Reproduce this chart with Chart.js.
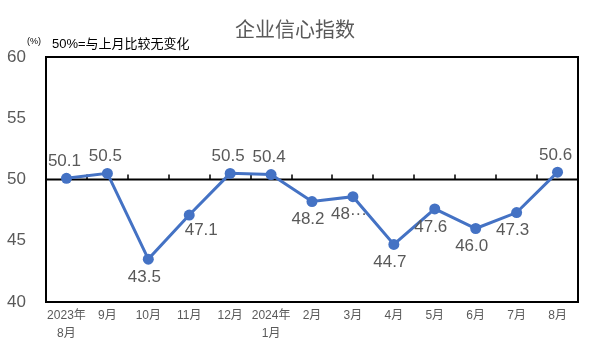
<!DOCTYPE html>
<html>
<head>
<meta charset="utf-8">
<script src="https://cdn.jsdelivr.net/npm/chart.js@4/dist/chart.umd.min.js"></script>
<style>
  html, body { margin: 0; padding: 0; background: #fff; }
  #wrap { width: 591px; height: 354px; }
</style>
</head>
<body>
<div id="wrap"><canvas id="chart" width="591" height="354"></canvas></div>
<script>
// data
const months = [["2023年", "8月"], "9月", "10月", "11月", "12月", ["2024年", "1月"], "2月", "3月", "4月", "5月", "6月", "7月", "8月"];
const confidence = [50.1, 50.5, 43.5, 47.1, 50.5, 50.4, 48.2, 48.6, 44.7, 47.6, 46.0, 47.3, 50.6];
const yTicks = [40, 45, 50, 55, 60];
// where each value label sits relative to its point
const labelSide = ["top", "top", "bottom", "right", "top", "top", "bottom", "bottom", "bottom", "bottom", "bottom", "bottom", "top"];
const cutLabels = [7]; // shown clipped as "48···" in the original

const FONT = "'Liberation Sans', 'Noto Sans CJK SC', sans-serif";
const GREY = "#595959";
const BLUE = "#4472C4";

const decor = {
  id: "decor",
  beforeDatasetsDraw(chart) {
    const { ctx, chartArea: a, scales: { x, y } } = chart;
    const y50 = y.getPixelForValue(50);
    ctx.save();
    ctx.strokeStyle = "#000";
    ctx.lineWidth = 2;
    ctx.beginPath();
    ctx.moveTo(a.left, y50);
    ctx.lineTo(a.right, y50);
    ctx.stroke();
    // small tick marks between the months, on the 50 line
    ctx.lineWidth = 1.5;
    ctx.beginPath();
    for (let i = 1; i < months.length; i++) {
      const px = Math.round((x.getPixelForValue(i - 1) + x.getPixelForValue(i)) / 2);
      ctx.moveTo(px, y50);
      ctx.lineTo(px, y50 - 5);
    }
    ctx.stroke();
    ctx.lineWidth = 2;
    ctx.strokeRect(a.left, a.top, a.width, a.height);
    ctx.restore();
  },
  afterDatasetsDraw(chart) {
    const { ctx } = chart;
    const pts = chart.getDatasetMeta(0).data;
    ctx.save();
    ctx.font = "17px " + FONT;
    ctx.fillStyle = GREY;
    ctx.textAlign = "center";
    ctx.textBaseline = "middle";
    pts.forEach((p, i) => {
      let txt = confidence[i].toFixed(1);
      if (cutLabels.includes(i)) txt = txt.slice(0, 2) + "···";
      let dx = -2, dy = -17;
      if (labelSide[i] === "bottom") { dx = -4; dy = 18; }
      if (labelSide[i] === "right") { dx = 12; dy = 15; }
      ctx.fillText(txt, p.x + dx, p.y + dy);
    });
    ctx.restore();
  },
  afterDraw(chart) {
    const { ctx } = chart;
    ctx.save();
    ctx.fillStyle = GREY;
    ctx.textAlign = "center";
    ctx.textBaseline = "middle";
    ctx.font = "20px " + FONT;
    ctx.fillText("企业信心指数", 295, 31);
    ctx.fillStyle = "#000";
    ctx.textAlign = "left";
    ctx.font = "9px " + FONT;
    ctx.fillText("(%)", 27, 42);
    ctx.font = "13px " + FONT;
    ctx.fillText("50%=与上月比较无变化", 52, 44);
    ctx.restore();
  }
};

new Chart(document.getElementById("chart"), {
  type: "line",
  data: {
    labels: months,
    datasets: [{
      data: confidence,
      borderColor: BLUE,
      backgroundColor: BLUE,
      borderWidth: 3,
      pointRadius: 5.5,
      pointBackgroundColor: BLUE,
      pointBorderWidth: 0,
      tension: 0
    }]
  },
  options: {
    responsive: false,
    animation: false,
    layout: { padding: { top: 57, right: 13, left: 0, bottom: 0 } },
    plugins: { legend: { display: false }, tooltip: { enabled: false } },
    scales: {
      x: {
        offset: true,
        grid: { display: false, drawTicks: false },
        border: { display: false },
        ticks: { color: GREY, font: { family: FONT, size: 12, lineHeight: 1.5 }, padding: 5, maxRotation: 0, autoSkip: false },
        afterFit(s) { s.height = 52; }
      },
      y: {
        min: 40, max: 60,
        afterBuildTicks(s) { s.ticks = yTicks.map(v => ({ value: v })); },
        grid: { display: false, drawTicks: false },
        border: { display: false },
        ticks: { color: GREY, font: { family: FONT, size: 17 }, padding: 20 },
        afterFit(s) { s.width = 46; }
      }
    }
  },
  plugins: [decor]
});
</script>
</body>
</html>
